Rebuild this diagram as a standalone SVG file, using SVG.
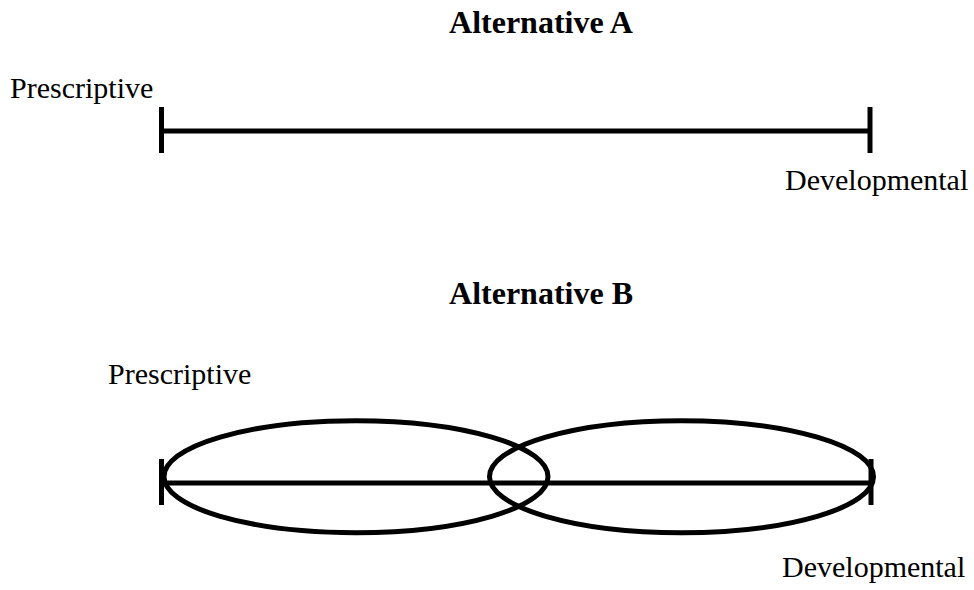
<svg xmlns="http://www.w3.org/2000/svg" width="974" height="590" viewBox="0 0 974 590">
<style>
.t{font-family:"Liberation Serif","Times New Roman",serif;font-size:30px;fill:#000}
.h{font-family:"Liberation Serif","Times New Roman",serif;font-size:32px;font-weight:bold;fill:#000}
.ln{stroke:#000;stroke-width:5;fill:none}
</style>
<rect width="974" height="590" fill="#fff"/>
<g id="altA">
<text class="h" x="541" y="33" text-anchor="middle">Alternative A</text>
<text class="t" x="10" y="98">Prescriptive</text>
<text class="t" x="785" y="190">Developmental</text>
<line class="ln" x1="161" y1="131" x2="870" y2="131"/>
<line class="ln" x1="161.5" y1="107" x2="161.5" y2="153"/>
<line class="ln" x1="870" y1="107" x2="870" y2="153"/>
</g>
<g id="altB">
<text class="h" x="541" y="304" text-anchor="middle">Alternative B</text>
<text class="t" x="108" y="384">Prescriptive</text>
<text class="t" x="782" y="577">Developmental</text>
<line class="ln" x1="161" y1="483" x2="871" y2="483"/>
<line class="ln" x1="161.5" y1="459" x2="161.5" y2="505"/>
<line class="ln" x1="871" y1="459" x2="871" y2="505"/>
<ellipse class="ln" cx="356" cy="476.7" rx="192" ry="56"/>
<ellipse class="ln" cx="681.5" cy="476.7" rx="192" ry="56"/>
</g>
</svg>
